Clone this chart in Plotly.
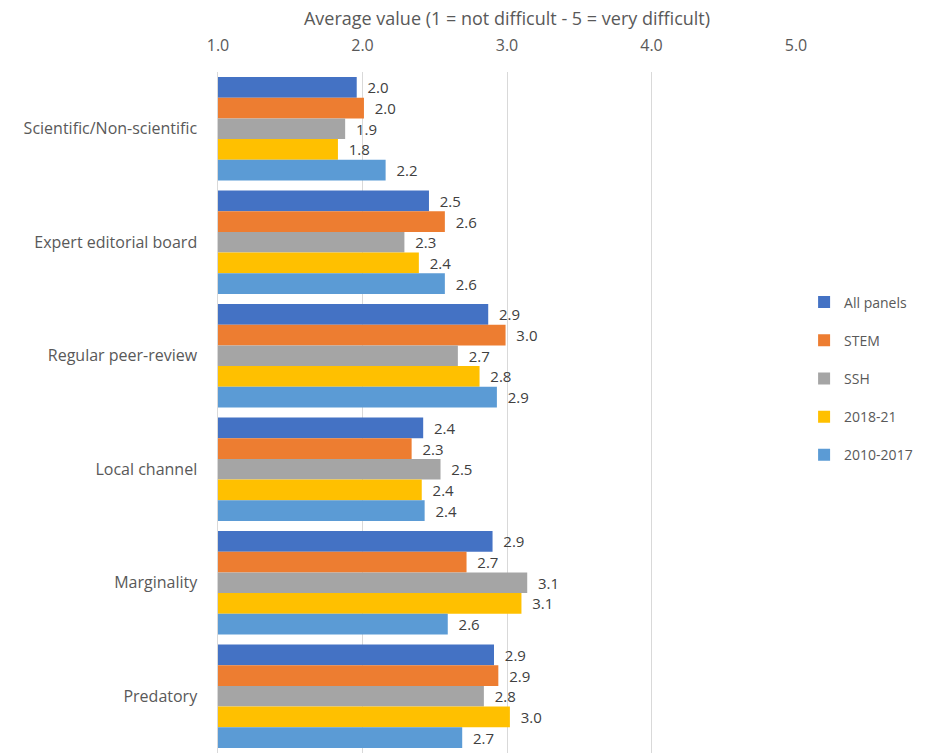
import plotly.graph_objects as go

categories = ["Scientific/Non-scientific", "Expert editorial board", "Regular peer-review",
              "Local channel", "Marginality", "Predatory"]
series_names = ["All panels", "STEM", "SSH", "2018-21", "2010-2017"]
all_panels = [1.96, 2.46, 2.87, 2.42, 2.90, 2.91]
stem = [2.01, 2.57, 2.99, 2.34, 2.72, 2.94]
ssh = [1.88, 2.29, 2.66, 2.54, 3.14, 2.84]
y2018_21 = [1.83, 2.39, 2.81, 2.41, 3.10, 3.02]
y2010_2017 = [2.16, 2.57, 2.93, 2.43, 2.59, 2.69]
series_values = [all_panels, stem, ssh, y2018_21, y2010_2017]
colors = ["#4472C4", "#ED7D31", "#A5A5A5", "#FFC000", "#5B9BD5"]
x_ticks = [1.0, 2.0, 3.0, 4.0, 5.0]

FONT = "Open Sans"
fig = go.Figure()
for i, (name, vals) in enumerate(zip(series_names, series_values)):
    fig.add_trace(go.Bar(
        y=categories, x=vals, name=name, orientation="h",
        marker=dict(color=colors[i], line=dict(width=0)),
        texttemplate="\u00a0\u00a0%{x:.1f}", textposition="outside",
        textfont=dict(size=15, color="#404040", family=FONT),
        constraintext="none", cliponaxis=False,
        legendgroup=name,
    ))

fig.update_layout(
    width=941, height=753,
    margin=dict(l=218, r=145, t=72, b=0, autoexpand=False),
    plot_bgcolor="white", paper_bgcolor="white",
    barmode="group", bargap=0.09, bargroupgap=0,
    font=dict(family=FONT, color="#595959", size=14),
    legend=dict(x=1.014, y=0.55, xanchor="left", yanchor="middle",
                font=dict(size=14, color="#595959", family=FONT),
                traceorder="grouped", tracegroupgap=17,
                itemwidth=30),
    xaxis=dict(side="top", range=[1.0, 5.0], tickvals=x_ticks,
               tickformat=".1f", showgrid=True, gridcolor="#D9D9D9",
               gridwidth=1, zeroline=False, showline=False,
               ticks="outside", ticklen=14, tickcolor="rgba(0,0,0,0)",
               automargin=False,
               tickfont=dict(size=16, color="#595959"),
               title=dict(text="Average value (1 = not difficult - 5 = very difficult)",
                          font=dict(size=18, color="#595959"), standoff=3)),
    yaxis=dict(autorange="reversed", showline=True, linecolor="#D9D9D9",
               linewidth=1, ticks="", showgrid=False, automargin=False,
               tickfont=dict(size=16, color="#595959"), ticksuffix="    "),
)

fig.write_html("out.html",
               config={"displayModeBar": False},
               post_script="document.body.style.margin='0';document.body.style.overflow='hidden';")
